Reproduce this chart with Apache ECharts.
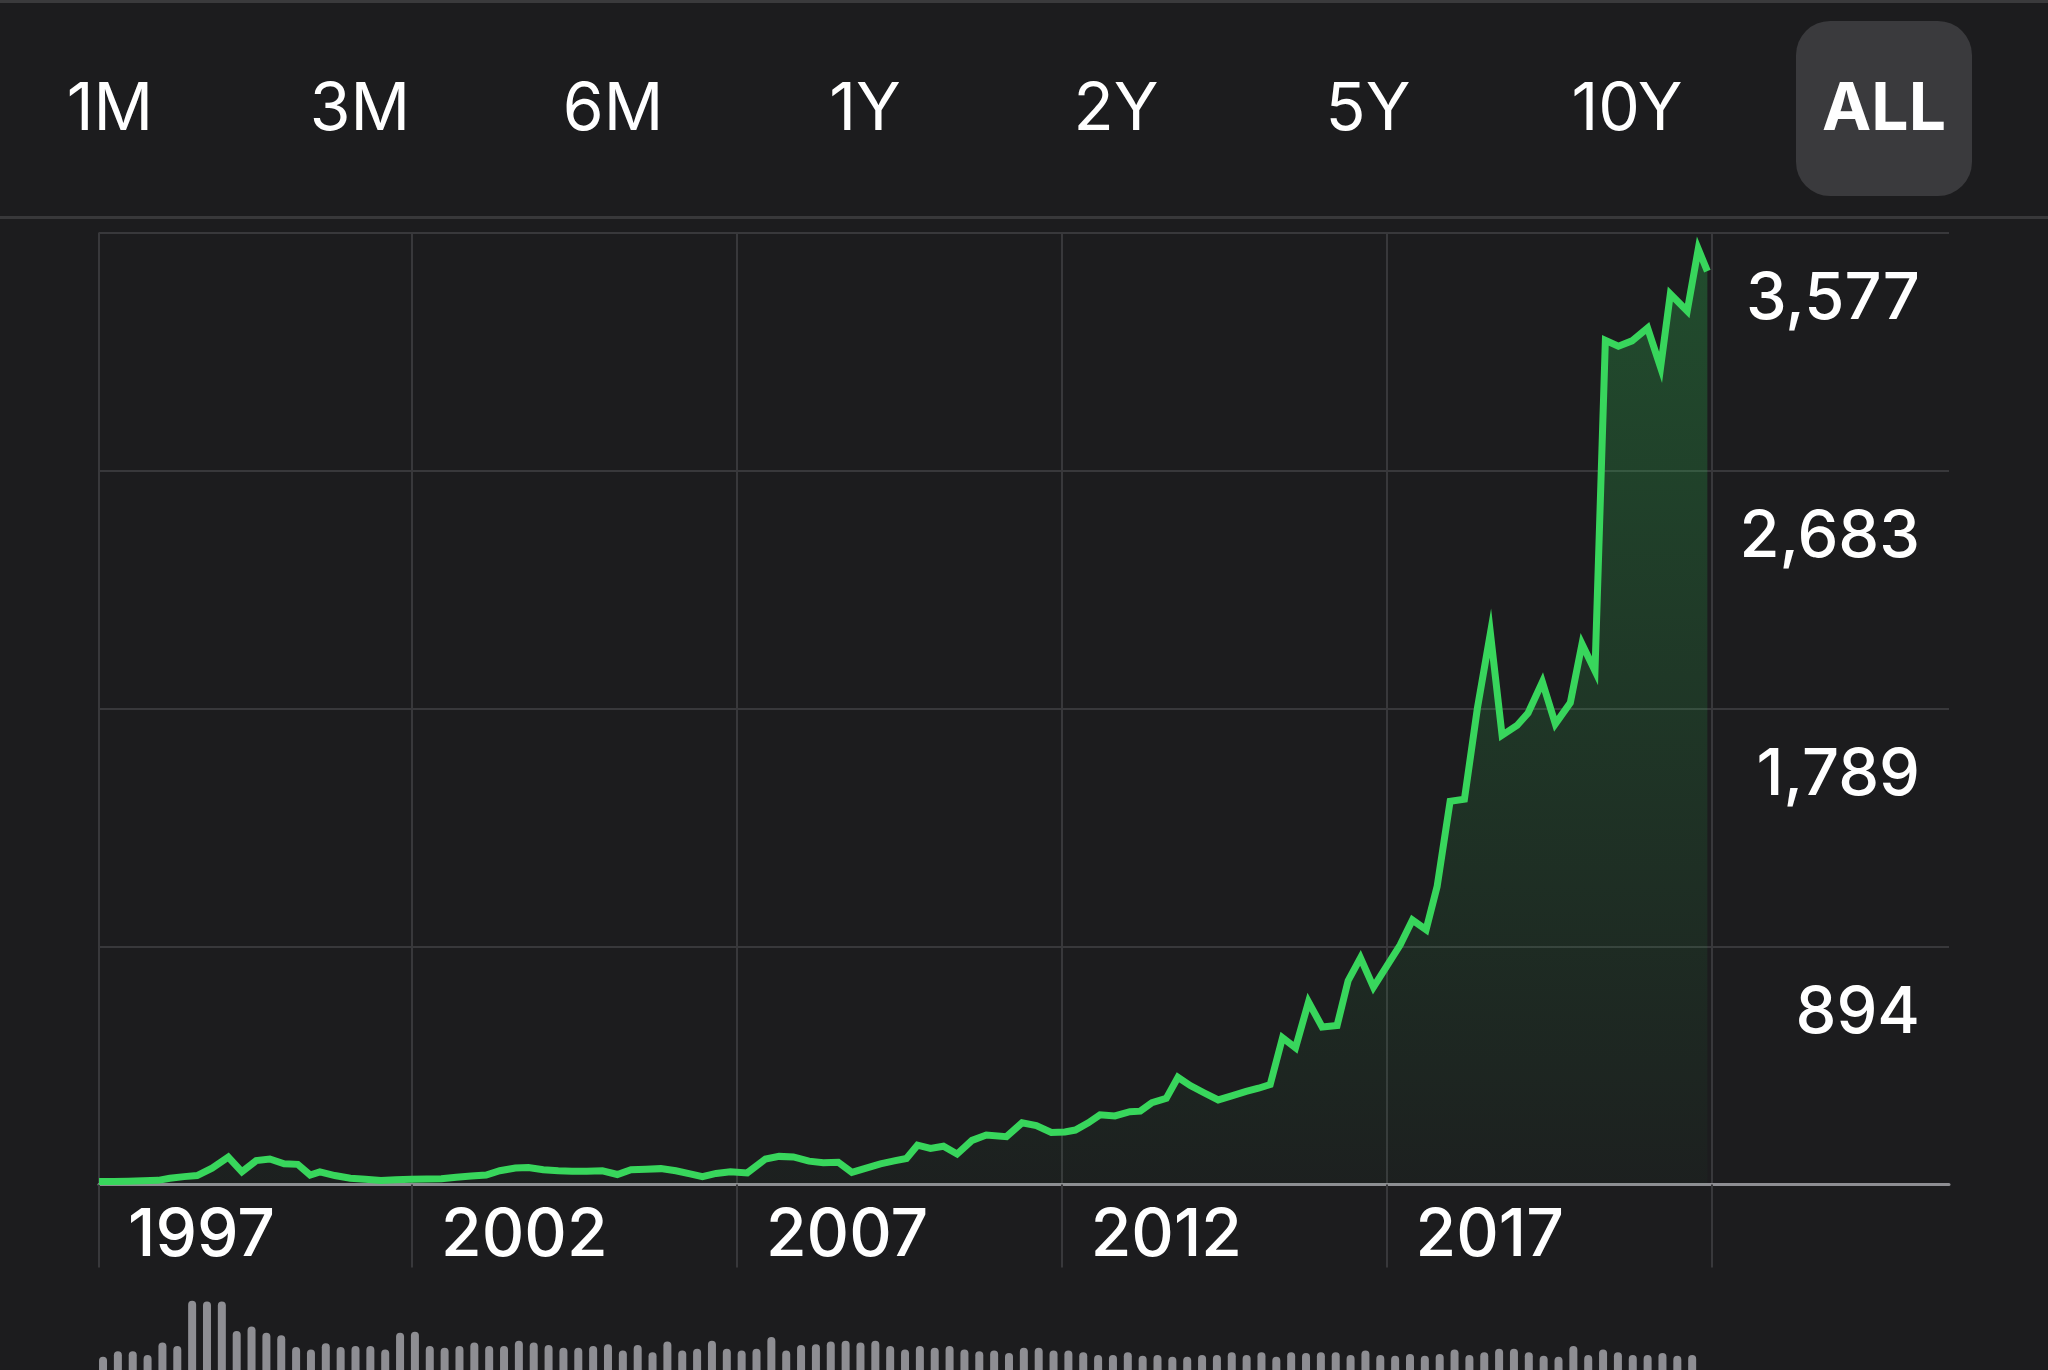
<!DOCTYPE html>
<html>
<head>
<meta charset="utf-8">
<title>Stock price - ALL</title>
<script src="https://cdn.jsdelivr.net/npm/echarts@6/dist/echarts.min.js"></script>
<style>
    html, body { margin: 0; padding: 0; background: #1c1c1e; }
    #chart_1 { width: 2048px; height: 1370px; }
</style>
</head>
<body>
<div id="chart_1"></div>
<script>
// range buttons on top
var ranges = ['1M', '3M', '6M', '1Y', '2Y', '5Y', '10Y', 'ALL'];
var activeRange = 'ALL';

// price line (decimal years, closing price)
var dates = [
    1997.18, 1997.40, 1997.63, 1997.86, 1998.09, 1998.27, 1998.49, 1998.69, 1998.92, 1999.17,
    1999.38, 1999.60, 1999.81, 2000.03, 2000.24, 2000.43, 2000.58, 2000.81, 2001.05, 2001.28,
    2001.52, 2001.75, 2001.98, 2002.22, 2002.45, 2002.68, 2002.91, 2003.14, 2003.35, 2003.59,
    2003.79, 2004.02, 2004.25, 2004.46, 2004.69, 2004.93, 2005.16, 2005.37, 2005.60, 2005.83,
    2006.06, 2006.28, 2006.47, 2006.68, 2006.90, 2007.16, 2007.44, 2007.65, 2007.87, 2008.11,
    2008.33, 2008.56, 2008.77, 2008.99, 2009.21, 2009.44, 2009.61, 2009.78, 2009.98, 2010.18,
    2010.39, 2010.62, 2010.84, 2011.15, 2011.39, 2011.61, 2011.84, 2012.05, 2012.21, 2012.41,
    2012.59, 2012.82, 2013.05, 2013.21, 2013.39, 2013.61, 2013.79, 2013.98, 2014.19, 2014.41,
    2014.63, 2014.84, 2015.03, 2015.21, 2015.40, 2015.60, 2015.80, 2016.01, 2016.24, 2016.41,
    2016.60, 2016.80, 2017.21, 2017.40, 2017.61, 2017.78, 2017.98, 2018.20, 2018.40, 2018.60,
    2018.78, 2019.01, 2019.18, 2019.40, 2019.60, 2019.83, 2020.01, 2020.21, 2020.37, 2020.57,
    2020.78, 2021.02, 2021.22, 2021.37, 2021.63, 2021.80, 2021.94
];
var prices = [
    12, 12, 13, 14, 16, 24, 30, 34, 62, 103,
    48, 90, 96, 78, 76, 36, 48, 34, 24, 20,
    15, 18, 20, 21, 22, 28, 32, 36, 52, 62,
    64, 56, 52, 50, 50, 52, 38, 56, 58, 60,
    52, 40, 30, 42, 48, 44, 96, 106, 104, 88,
    82, 84, 46, 62, 78, 90, 98, 148, 136, 144,
    115, 166, 186, 180, 232, 222, 196, 198, 205, 232,
    262, 258, 274, 276, 308, 324, 403, 372, 345, 318,
    334, 350, 362, 376, 552, 514, 686, 592, 598, 766,
    852, 742, 900, 994, 958, 1120, 1440, 1448, 1790, 2072,
    1688, 1725, 1772, 1888, 1731, 1810, 2031, 1930, 3172, 3150,
    3170, 3218, 3070, 3346, 3282, 3515, 3432
];

// volume bars at the bottom (relative)
var volume = [
    15, 21, 21, 17, 31, 27, 78, 77, 77, 44, 49, 42, 39, 26, 23, 30, 26, 27, 27, 23,
    42, 43, 27, 25, 27, 31, 27, 27, 33, 31, 28, 25, 25, 27, 29, 22, 28, 20, 32, 22,
    24, 33, 24, 22, 24, 37, 22, 28, 29, 32, 33, 31, 33, 27, 23,
    27, 25, 27, 23, 21, 22, 19, 25, 25, 22, 22, 20, 17, 17, 20, 16, 17, 15, 15, 17,
    17, 20, 17, 20, 15, 20, 19, 20, 20, 17, 22, 17, 16, 18, 16, 18, 23, 17, 20, 24,
    24, 20, 16, 15, 27, 17, 23, 20, 17, 17, 19, 16, 17
];

// axis ticks
var yearLines = [2002, 2007, 2012, 2017, 2022];
var yearLabels = [2002, 2007, 2012, 2017];
var priceTicks = [894, 1789, 2683, 3577];
var xEnd = 2025.66;

var myChart = echarts.init(document.getElementById('chart_1'));

var gridColor = '#38383b';
var fontFamily = 'Inter, Roboto, sans-serif';
var yMax = priceTicks[priceTicks.length - 1];

var tabCenters = [110, 360, 613, 865, 1116, 1368, 1627, 1884];
var graphics = [
    { type: 'rect', shape: { x: 0, y: 0, width: 2048, height: 3 }, style: { fill: '#3a3a3c' } },
    { type: 'rect', shape: { x: 0, y: 216, width: 2048, height: 3 }, style: { fill: '#38383a' } }
];
ranges.forEach(function (r, i) {
    var active = r === activeRange;
    if (active) {
        graphics.push({
            type: 'rect',
            shape: { x: tabCenters[i] - 88, y: 21, width: 176, height: 175, r: 34 },
            style: { fill: '#3a3a3d' }
        });
    }
    graphics.push({
        type: 'text',
        x: tabCenters[i],
        y: 110,
        style: {
            text: r,
            fill: '#ffffff',
            font: (active ? '700 ' : '400 ') + '66px ' + fontFamily,
            textAlign: 'center',
            textVerticalAlign: 'middle',
            align: 'center',
            verticalAlign: 'middle'
        }
    });
});

var option = {
    backgroundColor: '#1c1c1e',
    animation: false,
    textStyle: { fontFamily: fontFamily },
    graphic: graphics,
    grid: [
        { left: 99, right: 99, top: 232.5, bottom: 185.4 },
        { left: 95.6, right: 348.4, top: 1290, height: 90 }
    ],
    xAxis: [
        {
            type: 'value',
            gridIndex: 0,
            min: dates[0],
            max: xEnd,
            axisLine: { show: true, lineStyle: { color: '#8e8e93', width: 3 } },
            axisTick: {
                show: true,
                customValues: [dates[0]].concat(yearLines),
                length: 83,
                lineStyle: { color: gridColor, width: 2 }
            },
            splitLine: { show: true, lineStyle: { color: gridColor, width: 2 } },
            axisLabel: {
                customValues: [dates[0]].concat(yearLabels),
                formatter: function (v) {
                    return String(Math.floor(v));
                },
                color: '#ffffff',
                fontSize: 66,
                fontWeight: 500,
                fontFamily: fontFamily,
                align: 'left',
                verticalAlign: 'top',
                lineHeight: 65,
                padding: [0, 0, 0, 29],
                margin: 19
            }
        },
        {
            type: 'category',
            gridIndex: 1,
            data: volume.map(function (v, i) { return i; }),
            show: false
        }
    ],
    yAxis: [
        {
            type: 'value',
            gridIndex: 0,
            position: 'right',
            min: 0,
            max: yMax,
            interval: yMax / priceTicks.length,
            axisLine: { show: false },
            axisTick: { show: false },
            splitLine: { show: true, lineStyle: { color: gridColor, width: 2 } },
            axisLabel: {
                inside: true,
                showMinLabel: false,
                margin: 29,
                color: '#ffffff',
                fontSize: 65,
                fontWeight: 500,
                fontFamily: fontFamily,
                align: 'right',
                verticalAlign: 'top',
                lineHeight: 65,
                padding: [34, 0, 0, 0],
                formatter: function (v) {
                    return Math.round(v).toLocaleString('en-US');
                }
            }
        },
        {
            type: 'value',
            gridIndex: 1,
            min: 0,
            max: 90,
            show: false
        }
    ],
    series: [
        {
            name: 'Price',
            type: 'line',
            xAxisIndex: 0,
            yAxisIndex: 0,
            data: dates.map(function (d, i) { return [d, prices[i]]; }),
            showSymbol: false,
            symbol: 'none',
            lineStyle: { color: '#38d65c', width: 7, join: 'miter' },
            areaStyle: {
                color: new echarts.graphic.LinearGradient(0, 0, 0, 1, [
                    { offset: 0, color: 'rgba(48, 209, 88, 0.38)' },
                    { offset: 1, color: 'rgba(48, 209, 88, 0.03)' }
                ])
            },
            z: 3
        },
        {
            name: 'Volume',
            type: 'bar',
            xAxisIndex: 1,
            yAxisIndex: 1,
            data: volume,
            barWidth: 8,
            itemStyle: { color: '#8e8e93', borderRadius: [4, 4, 0, 0] }
        }
    ]
};

myChart.setOption(option);
window.addEventListener('resize', function () {
    myChart.resize();
});
</script>
</body>
</html>
